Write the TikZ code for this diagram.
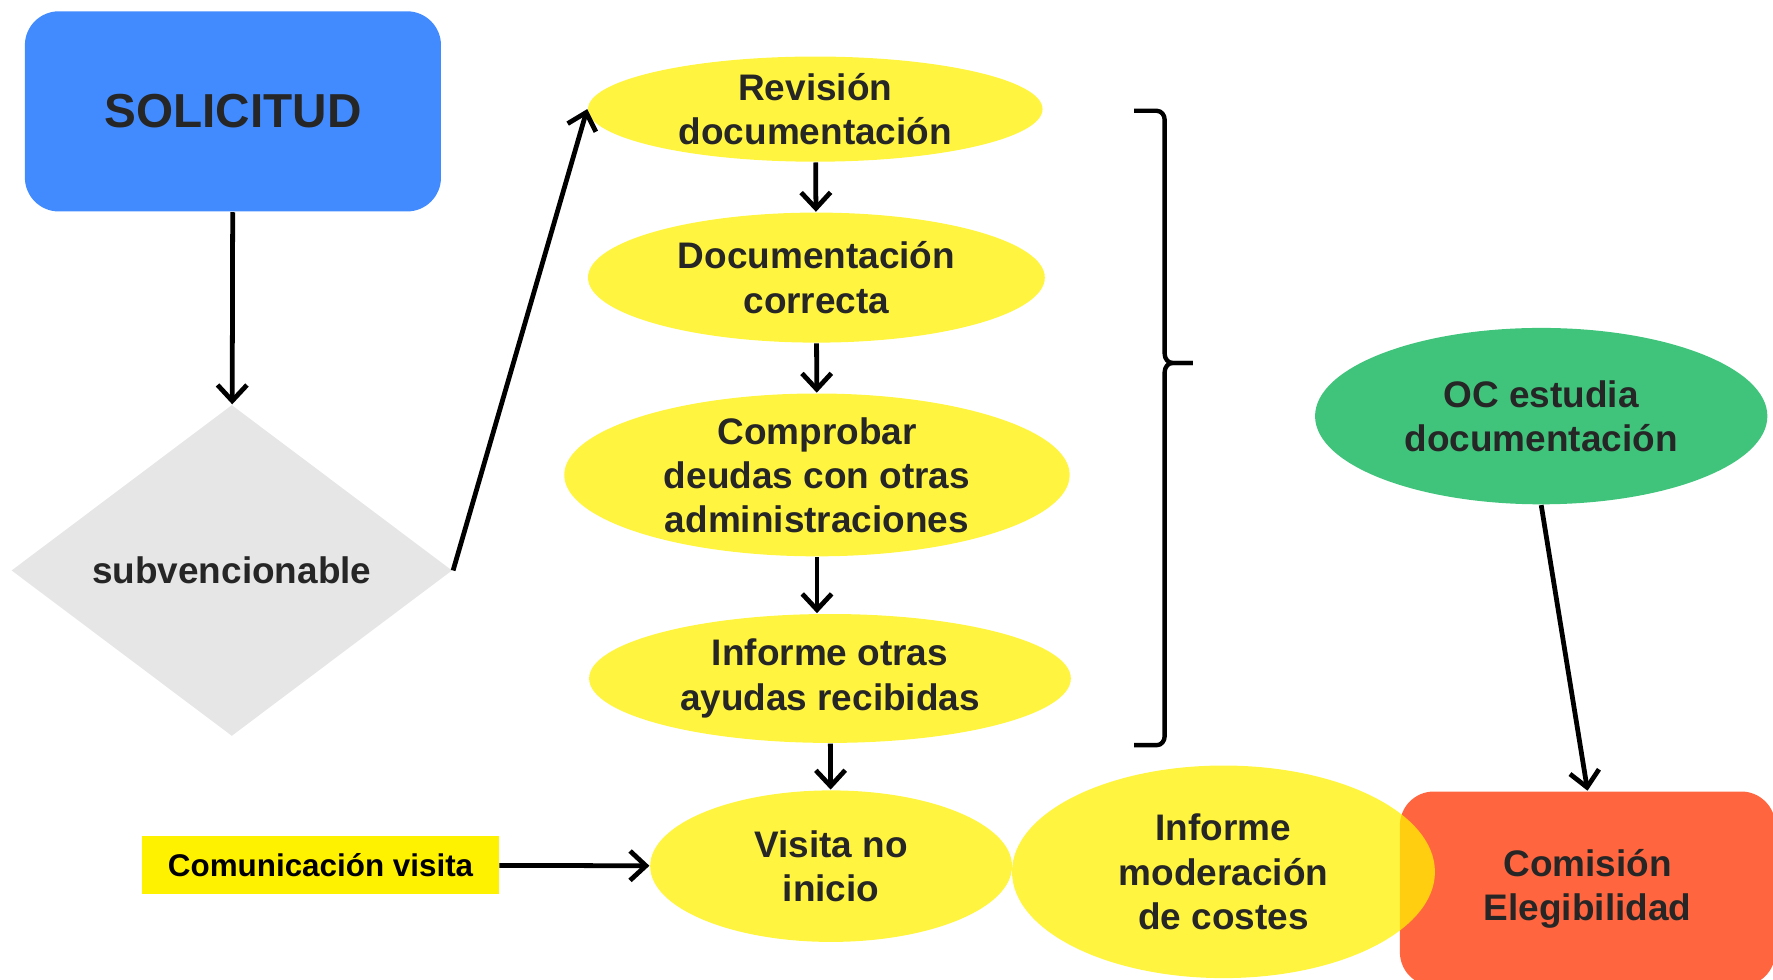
\documentclass[tikz,border=0pt]{standalone}
\usepackage{fontspec}
\setmainfont{Liberation Sans}
\usetikzlibrary{shapes.geometric,arrows.meta}

\definecolor{solblue}{RGB}{66,139,255}
\definecolor{decgray}{RGB}{230,230,230}
\definecolor{ocgreen}{RGB}{64,196,124}
\definecolor{celred}{RGB}{255,102,64}
\definecolor{textgray}{RGB}{38,38,38}

\begin{document}
\begin{tikzpicture}[
    txt/.style={font=\bfseries\fontsize{9.3}{11.1}\selectfont, text=textgray, align=center},
    startbox/.style={rectangle, rounded corners=.3cm, fill=solblue, minimum width=3.68cm, minimum height=1.77cm, font=\bfseries\fontsize{12}{14}\selectfont, text=textgray},
    decision/.style={diamond, fill=decgray, minimum width=3.9cm, minimum height=2.93cm, inner sep=0pt, txt},
    stepell/.style={ellipse, fill=yellow, fill opacity=.75, text opacity=1, inner xsep=0pt, inner ysep=-1mm, txt},
    ocell/.style={ellipse, fill=ocgreen, inner xsep=0pt, inner ysep=-1mm, txt},
    notebox/.style={rectangle, fill=yellow, minimum width=3.15cm, minimum height=.52cm, font=\bfseries\fontsize{7.9}{9.5}\selectfont},
    endbox/.style={rectangle, rounded corners=.3cm, fill=celred, minimum width=3.32cm, minimum height=1.72cm, txt},
    conn/.style={-{Straight Barb[length=1.4mm,width=2.6mm]}, line width=1.2pt},
    bracket/.style={line width=1.1pt, line join=round}
    ]
    	\useasboundingbox (0,0) rectangle (15.68,-8.66);

    	\node [startbox] (sol) at (2.06,-.985) {SOLICITUD};
    	\node [decision] (subv) at (2.05,-5.045) {subvencionable};

    	\node [stepell, minimum width=4.02cm, minimum height=.93cm] (rev) at (7.21,-.965) {Revisión\\documentación};
    	\node [stepell, minimum width=4.04cm, minimum height=1.15cm] (doc) at (7.22,-2.455) {Documentación\\correcta};
    	\node [stepell, minimum width=4.47cm, minimum height=1.44cm] (comp) at (7.225,-4.2) {Comprobar\\deudas con otras\\administraciones};
    	\node [stepell, minimum width=4.26cm, minimum height=1.14cm] (inf) at (7.34,-6) {Informe otras\\ayudas recibidas};
    	\node [stepell, minimum width=3.2cm, minimum height=1.34cm] (vis) at (7.35,-7.66) {Visita no\\inicio};
    	\node [notebox] (com) at (2.835,-7.65) {Comunicación visita};

    	\node [endbox] (cel) at (14.04,-7.86) {Comisión\\Elegibilidad};
    	\node [stepell, minimum width=3.74cm, minimum height=1.88cm] (mod) at (10.82,-7.71) {Informe\\moderación\\de costes};
    	\node [ocell, minimum width=4cm, minimum height=1.56cm] (oc) at (13.63,-3.68) {OC estudia\\documentación};

    	\coordinate (btop) at (10.03,-.98);
    	\coordinate (btip) at (10.55,-3.21);
    	\coordinate (bbot) at (10.03,-6.59);
    	\draw [bracket] (btop) -- ++(.2,0) to [out=0, in=90] ++(.07,-.08)
    		-- (10.3,-3.13) to [out=-90, in=180] ++(.07,-.08) -- (btip);
    	\draw [bracket] (btip) -- (10.37,-3.21) to [out=180, in=90] ++(-.07,-.08)
    		-- (10.3,-6.51) to [out=-90, in=0] ++(-.07,-.08) -- (bbot);

    	\draw [conn] (sol) -- (subv);
    	\draw [conn] (subv.east) -- (rev.west);
    	\draw [conn] (rev) -- (doc);
    	\draw [conn] (doc) -- (comp);
    	\draw [conn] (comp.south) -- (comp.south |- inf.north);
    	\draw [conn] (inf) -- (vis);
    	\draw [conn] (com) -- (vis);
    	\draw [conn] (oc.south) -- (cel.north);
\end{tikzpicture}
\end{document}
